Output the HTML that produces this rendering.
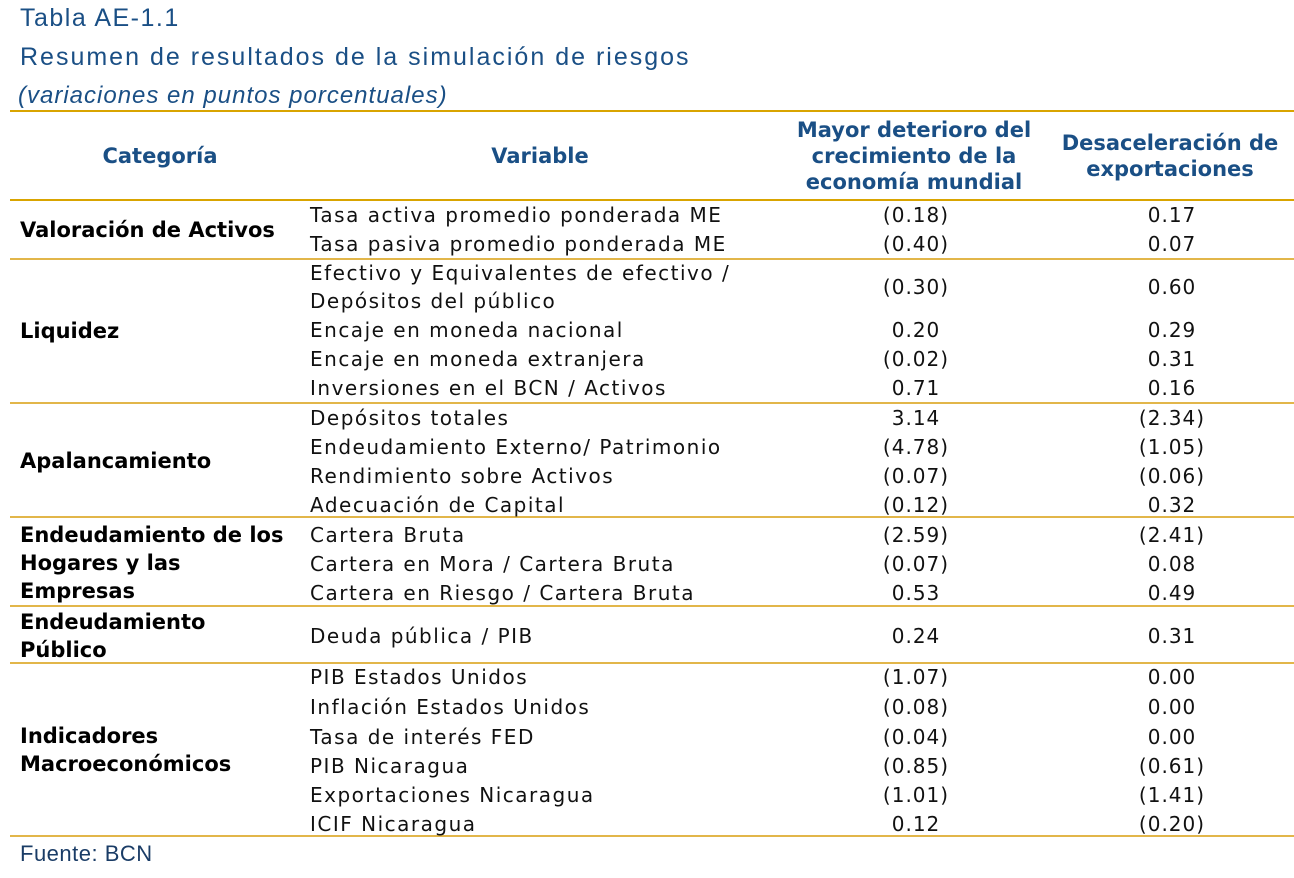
<!DOCTYPE html>
<html><head><meta charset="utf-8"><style>
body{margin:0;width:1294px;height:878px;background:#fff;position:relative;overflow:hidden;font-family:"DejaVu Sans","Liberation Sans",sans-serif;}
.a{position:absolute;white-space:nowrap;}
.t{color:#1a4f85;font-family:"Liberation Sans",sans-serif;}
.h{color:#1a4f85;font-family:"DejaVu Sans",sans-serif;font-weight:bold;font-size:21px;text-align:center;line-height:26px;}
.c{font-family:"DejaVu Sans",sans-serif;font-weight:bold;font-size:21px;color:#000;line-height:28px;}
.v{font-size:20px;color:#111;letter-spacing:1.5px;line-height:28px;}
.n{font-size:20px;color:#111;text-align:center;width:120px;line-height:28px;letter-spacing:1px;}
.ln{position:absolute;left:10px;width:1284px;background:#e2b64a;height:2px;}
</style></head><body>
<div class="a t" style="left:20px;top:4px;font-size:25px;letter-spacing:1.5px;">Tabla AE-1.1</div>
<div class="a t" style="left:20px;top:43px;font-size:25px;letter-spacing:2px;">Resumen de resultados de la simulación de riesgos</div>
<div class="a t" style="left:18px;top:82px;font-size:24px;font-style:italic;letter-spacing:1px;">(variaciones en puntos porcentuales)</div>
<div class="ln" style="top:110px;background:#d9a400;"></div>
<div class="a h" style="left:60px;width:200px;top:143px;">Categoría</div>
<div class="a h" style="left:440px;width:200px;top:143px;">Variable</div>
<div class="a h" style="left:774px;width:280px;top:117px;">Mayor deterioro del<br>crecimiento de la<br>economía mundial</div>
<div class="a h" style="left:1050px;width:240px;top:130px;">Desaceleración de<br>exportaciones</div>
<div class="ln" style="top:199px;background:#d9a400;"></div>
<div class="ln" style="top:258px;"></div>
<div class="ln" style="top:402px;"></div>
<div class="ln" style="top:516px;"></div>
<div class="ln" style="top:605px;"></div>
<div class="ln" style="top:662px;"></div>
<div class="ln" style="top:835px;"></div>
<div class="a c" style="left:20px;top:216px;">Valoración de Activos</div>
<div class="a c" style="left:20px;top:317px;">Liquidez</div>
<div class="a c" style="left:20px;top:447px;">Apalancamiento</div>
<div class="a c" style="left:20px;top:521px;">Endeudamiento de los<br>Hogares y las<br>Empresas</div>
<div class="a c" style="left:20px;top:608px;">Endeudamiento<br>Público</div>
<div class="a c" style="left:20px;top:722px;">Indicadores<br>Macroeconómicos</div>
<div id="rows"></div>
<div class="a t" style="left:20px;top:841px;font-size:22px;color:#1a3c66;letter-spacing:0.5px;">Fuente: BCN</div>
<script>
const variables=["Tasa activa promedio ponderada ME","Tasa pasiva promedio ponderada ME","Efectivo y Equivalentes de efectivo /|Depósitos del público","Encaje en moneda nacional","Encaje en moneda extranjera","Inversiones en el BCN / Activos","Depósitos totales","Endeudamiento Externo/ Patrimonio","Rendimiento sobre Activos","Adecuación de Capital","Cartera Bruta","Cartera en Mora / Cartera Bruta","Cartera en Riesgo / Cartera Bruta","Deuda pública / PIB","PIB Estados Unidos","Inflación Estados Unidos","Tasa de interés FED","PIB Nicaragua","Exportaciones Nicaragua","ICIF Nicaragua"];
const scen1=[-0.18,-0.40,-0.30,0.20,-0.02,0.71,3.14,-4.78,-0.07,-0.12,-2.59,-0.07,0.53,0.24,-1.07,-0.08,-0.04,-0.85,-1.01,0.12];
const scen2=[0.17,0.07,0.60,0.29,0.31,0.16,-2.34,-1.05,-0.06,0.32,-2.41,0.08,0.49,0.31,0.00,0.00,0.00,-0.61,-1.41,-0.20];
const rowCenters=[215,244,287,330,359,388,418,447,476,505,535,564,593,636,677,707,737,766,795,824];
function fmt(v){return v<0?"("+Math.abs(v).toFixed(2)+")":v.toFixed(2);}
const host=document.getElementById('rows');
variables.forEach(function(name,i){
  const y=rowCenters[i];
  const parts=name.split('|');
  const d=document.createElement('div');
  d.className='a v';
  
  
  d.style.left='310px';d.style.top=(y-14*parts.length)+'px';
  d.innerHTML=parts.join('<br>');
  host.appendChild(d);
  const a=document.createElement('div');
  a.className='a n';
  
  
  a.style.left='856px';a.style.top=(y-14)+'px';
  a.textContent=fmt(scen1[i]);
  host.appendChild(a);
  const b=document.createElement('div');
  b.className='a n';
  
  
  b.style.left='1112px';b.style.top=(y-14)+'px';
  b.textContent=fmt(scen2[i]);
  host.appendChild(b);
});
</script>
</body></html>
